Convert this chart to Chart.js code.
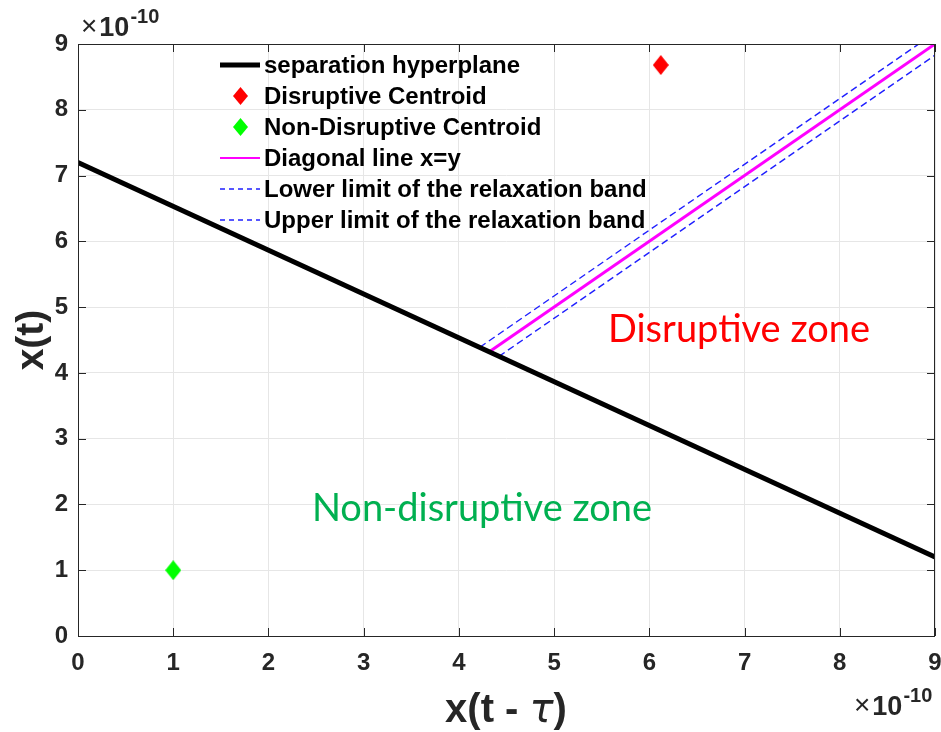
<!DOCTYPE html>
<html>
<head>
<meta charset="utf-8">
<script src="https://cdn.jsdelivr.net/npm/chart.js@4"></script>
<style>
  html, body { margin: 0; padding: 0; background: #fff; }
  #wrap { width: 941px; height: 732px; }
</style>
</head>
<body>
<div id="wrap"><canvas id="c" width="941" height="732"></canvas></div>
<script>
// values in units of 1e-10
const xTicks = [0, 1, 2, 3, 4, 5, 6, 7, 8, 9];
const yTicks = [0, 1, 2, 3, 4, 5, 6, 7, 8, 9];
const hyperplaneX = [0, 9];
const hyperplaneY = [7.2, 1.2];
const disruptiveCentroid = [6.12, 8.68];
const nonDisruptiveCentroid = [1.0, 1.0];
const diagonalX = [4.32, 9];
const diagonalY = [4.32, 9];
const lowerBandX = [4.42, 9];
const lowerBandY = [4.25, 8.83];
const upperBandX = [4.22, 8.83];
const upperBandY = [4.39, 9];
const legendLabels = [
  'separation hyperplane',
  'Disruptive Centroid',
  'Non-Disruptive Centroid',
  'Diagonal line x=y',
  'Lower limit of the relaxation band',
  'Upper limit of the relaxation band'
];

const pts = (xs, ys) => xs.map((x, i) => ({ x: x, y: ys[i] }));

function diamond(color, w, h) {
  const c = document.createElement('canvas');
  c.width = w; c.height = h;
  const g = c.getContext('2d');
  g.fillStyle = color;
  g.beginPath();
  g.moveTo(w / 2, 0); g.lineTo(w, h / 2); g.lineTo(w / 2, h); g.lineTo(0, h / 2);
  g.closePath(); g.fill();
  return c;
}
const redDiamond = diamond('#ff0000', 16, 20);
const greenDiamond = diamond('#00ff00', 16, 20);
const redSmall = diamond('#ff0000', 15, 18);
const greenSmall = diamond('#00ff00', 15, 18);

const dark = '#262626';
const boldFont = '"Liberation Sans", Arial, sans-serif';

const extras = {
  id: 'extras',
  afterDatasetsDraw(chart) {
    const ctx = chart.ctx;
    const a = chart.chartArea;
    const xs = chart.scales.x, ys = chart.scales.y;
    ctx.save();
    // box
    ctx.strokeStyle = dark;
    ctx.lineWidth = 1;
    ctx.strokeRect(a.left + 0.5, a.top + 0.5, a.right - a.left - 1, a.bottom - a.top);
    // inward ticks
    const tl = 8;
    ctx.beginPath();
    xTicks.forEach(v => {
      const px = Math.round(xs.getPixelForValue(v)) + 0.5;
      ctx.moveTo(px, a.bottom); ctx.lineTo(px, a.bottom - tl);
      ctx.moveTo(px, a.top); ctx.lineTo(px, a.top + tl);
    });
    yTicks.forEach(v => {
      const py = Math.round(ys.getPixelForValue(v)) + 0.5;
      ctx.moveTo(a.left, py); ctx.lineTo(a.left + tl, py);
      ctx.moveTo(a.right, py); ctx.lineTo(a.right - tl, py);
    });
    ctx.stroke();

    // zone labels
    ctx.font = '38px Lato, "Open Sans", sans-serif';
    ctx.textAlign = 'center';
    ctx.textBaseline = 'alphabetic';
    ctx.fillStyle = '#ff0000';
    ctx.fillText('Disruptive zone', 739, 342);
    ctx.fillStyle = '#00b050';
    ctx.fillText('Non-disruptive zone', 482, 521);

    // legend
    const lx = 220, tx = 264, y0 = 65, dy = 31;
    ctx.textAlign = 'left';
    ctx.textBaseline = 'middle';
    ctx.font = 'bold 24px ' + boldFont;
    ctx.fillStyle = '#000';
    legendLabels.forEach((t, i) => {
      const y = y0 + i * dy;
      ctx.save();
      if (i === 0) {
        ctx.strokeStyle = '#000'; ctx.lineWidth = 5;
        ctx.beginPath(); ctx.moveTo(lx, y); ctx.lineTo(lx + 40, y); ctx.stroke();
      } else if (i === 1) {
        ctx.drawImage(redSmall, lx + 13, y - 9);
      } else if (i === 2) {
        ctx.drawImage(greenSmall, lx + 13, y - 9);
      } else if (i === 3) {
        ctx.strokeStyle = '#ff00ff'; ctx.lineWidth = 2;
        ctx.beginPath(); ctx.moveTo(lx, y); ctx.lineTo(lx + 40, y); ctx.stroke();
      } else {
        ctx.strokeStyle = '#1f1fff'; ctx.lineWidth = 1.5;
        ctx.setLineDash([5, 4]);
        ctx.beginPath(); ctx.moveTo(lx, y); ctx.lineTo(lx + 40, y); ctx.stroke();
      }
      ctx.restore();
      ctx.fillText(t, tx, y + 1);
    });

    // axis titles
    ctx.fillStyle = dark;
    ctx.textBaseline = 'alphabetic';
    ctx.font = 'bold 39px ' + boldFont;
    ctx.textAlign = 'center';
    ctx.save();
    ctx.translate(43, 340);
    ctx.rotate(-Math.PI / 2);
    ctx.fillText('x(t)', 0, 0);
    ctx.restore();

    const left = 'x(t - ', tau = '\u03c4', right = ')';
    const tauFont = 'italic 40px "DejaVu Sans", sans-serif';
    ctx.font = 'bold 40px ' + boldFont;
    const w1 = ctx.measureText(left).width, w3 = ctx.measureText(right).width;
    ctx.font = tauFont;
    const w2 = ctx.measureText(tau).width;
    let sx = 506 - (w1 + w2 + w3) / 2;
    const by = 722;
    ctx.textAlign = 'left';
    ctx.font = 'bold 40px ' + boldFont;
    ctx.fillText(left, sx, by); sx += w1;
    ctx.font = tauFont;
    ctx.fillText(tau, sx, by); sx += w2;
    ctx.font = 'bold 40px ' + boldFont;
    ctx.fillText(right, sx, by);

    // exponent labels
    function expo(x, y) {
      ctx.textAlign = 'left';
      ctx.textBaseline = 'alphabetic';
      ctx.font = '28px ' + boldFont;
      ctx.fillText('\u00d7', x, y - 1);
      let px = x + ctx.measureText('\u00d7').width + 2;
      ctx.font = 'bold 27px ' + boldFont;
      ctx.fillText('10', px, y);
      px += ctx.measureText('10').width + 1;
      ctx.font = 'bold 20px ' + boldFont;
      ctx.fillText('-10', px, y - 13);
    }
    expo(81, 36);
    expo(854, 715);
    ctx.restore();
  }
};

new Chart(document.getElementById('c'), {
  type: 'scatter',
  data: {
    datasets: [
      { label: legendLabels[0], data: pts(hyperplaneX, hyperplaneY), showLine: true,
        borderColor: '#000', borderWidth: 5, pointRadius: 0 },
      { label: legendLabels[3], data: pts(diagonalX, diagonalY), showLine: true,
        borderColor: '#ff00ff', borderWidth: 3, pointRadius: 0 },
      { label: legendLabels[4], data: pts(lowerBandX, lowerBandY), showLine: true,
        borderColor: '#1f1fff', borderWidth: 1.4, borderDash: [7, 4], pointRadius: 0 },
      { label: legendLabels[5], data: pts(upperBandX, upperBandY), showLine: true,
        borderColor: '#1f1fff', borderWidth: 1.4, borderDash: [7, 4], pointRadius: 0 },
      { label: legendLabels[1], data: [{ x: disruptiveCentroid[0], y: disruptiveCentroid[1] }],
        pointStyle: redDiamond, backgroundColor: '#ff0000' },
      { label: legendLabels[2], data: [{ x: nonDisruptiveCentroid[0], y: nonDisruptiveCentroid[1] }],
        pointStyle: greenDiamond, backgroundColor: '#00ff00' }
    ]
  },
  options: {
    responsive: false,
    animation: false,
    layout: { padding: { top: 44, right: 6, left: 0, bottom: 0 } },
    plugins: { legend: { display: false }, tooltip: { enabled: false } },
    scales: {
      x: {
        type: 'linear', min: 0, max: 9,
        afterFit(s) { s.height = 96; s.paddingLeft = 0; s.paddingRight = 0; },
        afterBuildTicks(s) { s.ticks = xTicks.map(v => ({ value: v })); },
        grid: { color: '#e6e6e6', drawTicks: false },
        border: { display: false },
        ticks: { padding: 13, color: dark, maxRotation: 0, font: { family: boldFont, size: 24, weight: 'bold' } }
      },
      y: {
        type: 'linear', min: 0, max: 9,
        afterFit(s) { s.width = 78; s.paddingTop = 0; s.paddingBottom = 0; },
        afterBuildTicks(s) { s.ticks = yTicks.map(v => ({ value: v })); },
        grid: { color: '#e6e6e6', drawTicks: false },
        border: { display: false },
        ticks: { padding: 10, color: dark, font: { family: boldFont, size: 24, weight: 'bold' } }
      }
    }
  },
  plugins: [extras]
});
</script>
</body>
</html>
